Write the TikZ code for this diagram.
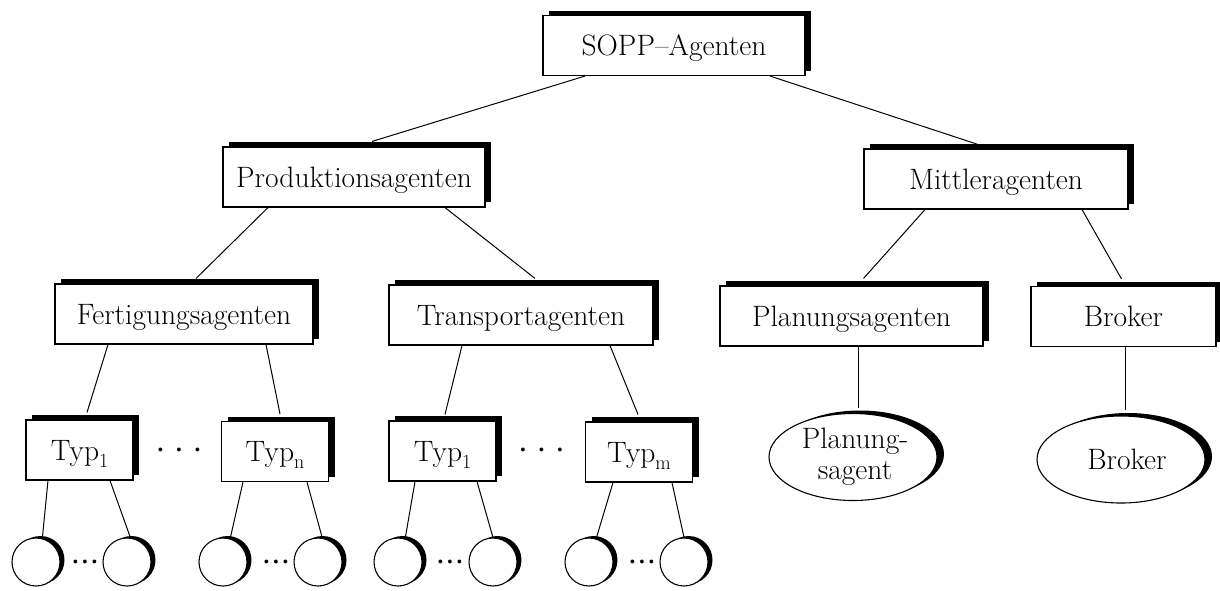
\documentclass[tikz,border=0pt]{standalone}
\usepackage{fontspec}
\usetikzlibrary{shadows,shapes.geometric}
\newcommand{\subidx}[1]{\raisebox{-0.24em}{\fontsize{20}{22}\selectfont #1}}
\newcommand{\dotcell}[1]{\makebox[#1]{\textbullet}}
\tikzset{
 lbl/.style={font=\fontsize{29.5}{31}\selectfont},
 agentbox/.style={lbl, draw, fill=white, line width=1.1pt, inner sep=0pt, minimum height=60pt, text height=20pt, text depth=0pt, general shadow={fill=black, shadow xshift=6pt, shadow yshift=5pt}},
 typbox/.style={agentbox, minimum width=107pt},
 inst/.style={circle, draw, fill=white, line width=1.1pt, minimum size=48pt, inner sep=0pt, general shadow={fill=black, shadow xshift=4.5pt, shadow yshift=2pt}},
 ell/.style={lbl, ellipse, draw, fill=white, line width=1.1pt, inner sep=0pt, minimum width=168pt, minimum height=87pt, align=center, general shadow={fill=black, shadow xshift=7pt, shadow yshift=3pt}},
 conn/.style={line width=1pt},
 dotrow/.style={font=\fontsize{17}{18}\selectfont, inner sep=0pt},
}
\begin{document}
\begin{tikzpicture}[x=1pt,y=-1pt]
\useasboundingbox (0,0) rectangle (1220,590);
% boxes
\node[agentbox, minimum width=262pt] (sopp) at (674,45.5) {SOPP--Agenten};
\node[agentbox, minimum width=262pt] (prod) at (354,177) {Produktionsagenten};
\node[agentbox, minimum width=264pt] (mitt) at (996,179) {Mittleragenten};
\node[agentbox, minimum width=258pt] (fert) at (184,314) {Fertigungsagenten};
\node[agentbox, minimum width=264pt] (trans) at (521,315) {Transportagenten};
\node[agentbox, minimum width=263pt] (plan) at (851.5,316) {Planungsagenten};
\node[agentbox, minimum width=185pt] (brok) at (1123.5,316.5) {Broker};
% type boxes
\node[typbox] (f1) at (79.5,450) {Typ\subidx{1}};
\node[typbox] (fn) at (275,451.5) {Typ\subidx{n}};
\node[typbox] (t1) at (442.5,451) {Typ\subidx{1}};
\node[typbox] (tm) at (639,452) {Typ\subidx{m}};
\node[dotrow] (dA) at (179,451) {\dotcell{18.5pt}\dotcell{18.5pt}\dotcell{18.5pt}};
\node[dotrow] (dB) at (541.5,451) {\dotcell{18.5pt}\dotcell{18.5pt}\dotcell{18.5pt}};
% instances
\node[inst] (c1) at (36,562) {};
\node[inst] (c2) at (127,562) {};
\node[inst] (c3) at (223,562) {};
\node[inst] (c4) at (318,562) {};
\node[inst] (c5) at (398,562) {};
\node[inst] (c6) at (493,562) {};
\node[inst] (c7) at (589,562) {};
\node[inst] (c8) at (684,562) {};
\node[dotrow] (e1) at (85,563) {\dotcell{9.5pt}\dotcell{9.5pt}\dotcell{9.5pt}};
\node[dotrow] (e2) at (276,563) {\dotcell{9.5pt}\dotcell{9.5pt}\dotcell{9.5pt}};
\node[dotrow] (e3) at (450,563) {\dotcell{9.5pt}\dotcell{9.5pt}\dotcell{9.5pt}};
\node[dotrow] (e4) at (642,563) {\dotcell{9.5pt}\dotcell{9.5pt}\dotcell{9.5pt}};
% ellipses
\node[ell] (planell) at (853,457) {\hspace*{4pt}Planung-\\\hspace*{4pt}sagent};
\node[ell] (brokell) at (1121,459.5) {\hspace*{12pt}Broker};
% connectors
\draw[conn] ([shift={(-89,0)}]sopp.south) -- ([shift={(18,-5)}]prod.north);
\draw[conn] ([shift={(96,0)}]sopp.south) -- ([shift={(-18,-4)}]mitt.north);
\draw[conn] ([shift={(-86,0)}]prod.south) -- ([shift={(12,-5)}]fert.north);
\draw[conn] ([shift={(91,0)}]prod.south) -- ([shift={(14,-6)}]trans.north);
\draw[conn] ([shift={(-71,0)}]mitt.south) -- ([shift={(12,-7)}]plan.north);
\draw[conn] ([shift={(86,0)}]mitt.south) -- ([shift={(-2,-7)}]brok.north);
\draw[conn] ([shift={(6.5,0)}]plan.south) -- ([shift={(5,-5)}]planell.north);
\draw[conn] ([shift={(1.5,0)}]brok.south) -- ([shift={(4,-5)}]brokell.north);
\draw[conn] ([shift={(-76,0)}]fert.south) -- ([shift={(7.5,-7)}]f1.north);
\draw[conn] ([shift={(82,0)}]fert.south) -- ([shift={(5,-7)}]fn.north);
\draw[conn] ([shift={(-59,0)}]trans.south) -- ([shift={(2.5,-6)}]t1.north);
\draw[conn] ([shift={(89,0)}]trans.south) -- ([shift={(-1,-7)}]tm.north);
\draw[conn] ([shift={(-31.5,0)}]f1.south) -- (c1.75);
\draw[conn] ([shift={(30.5,0)}]f1.south) -- (c2.82);
\draw[conn] ([shift={(-32,0)}]fn.south) -- (c3.73);
\draw[conn] ([shift={(32,0)}]fn.south) -- (c4.80);
\draw[conn] ([shift={(-27.5,0)}]t1.south) -- (c5.73);
\draw[conn] ([shift={(34.5,0)}]t1.south) -- (c6.90);
\draw[conn] ([shift={(-26,0)}]tm.south) -- (c7.73);
\draw[conn] ([shift={(33,0)}]tm.south) -- (c8.90);
\end{tikzpicture}
\end{document}
